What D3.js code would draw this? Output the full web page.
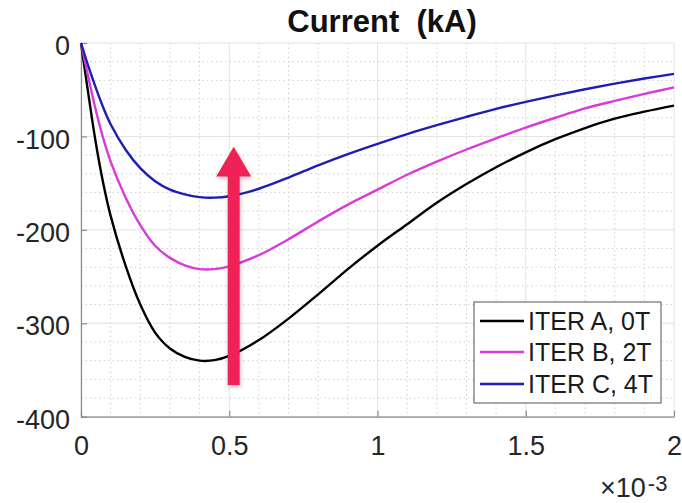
<!DOCTYPE html>
<html>
<head>
<meta charset="utf-8">
<script src="https://cdn.jsdelivr.net/npm/d3@7"></script>
<style>
  html, body { margin: 0; padding: 0; background: #fff; }
  svg { display: block; font-family: "Liberation Sans", Arial, Helvetica, sans-serif; }
</style>
</head>
<body>
<svg id="chart" width="682" height="503"></svg>
<script>
// Time axis in units of 1e-3 s
const timeMs = [0, 0.025, 0.05, 0.075, 0.1, 0.15, 0.2, 0.25, 0.3, 0.35, 0.4, 0.45, 0.5,
  0.6, 0.7, 0.8, 0.9, 1.0, 1.1, 1.2, 1.3, 1.4, 1.5, 1.6, 1.7, 1.8, 1.9, 2.0];

// Current (kA) for each case
const iterA0T = [0, -55, -107, -150, -185, -238, -280, -310, -327, -336, -340, -339.5, -335,
  -318, -295, -269, -242, -217, -194, -171, -151, -133, -117, -103, -91, -81, -73.5, -67];
const iterB2T = [0, -37, -72, -102, -127, -165, -195, -217, -230, -238, -242, -242, -239,
  -227, -210, -191, -173, -157, -141, -127, -114, -102, -90.5, -80, -70, -62, -54.5, -47.5];
const iterC4T = [0, -25, -48, -69, -87, -114, -134, -148, -157, -162, -165, -165.5, -164,
  -156, -144, -131, -119, -108, -97.5, -88, -79, -70.5, -63, -56, -49.5, -43.5, -38, -33];

const seriesNames = ["ITER A, 0T", "ITER B, 2T", "ITER C, 4T"];
const seriesValues = [iterA0T, iterB2T, iterC4T];
const seriesColors = ["#000000", "#d93ad9", "#1e1eb4"];

const xTicks = [0, 0.5, 1, 1.5, 2];
const yTicks = [-400, -300, -200, -100, 0];
const titleText = "Current  (kA)";

// Arrow annotation (data units): shaft from bottom up to tip
const arrowX = 0.515, arrowFrom = -366, arrowTo = -111, arrowHeadBase = -143;

const svg = d3.select("#chart");
const plotLeft = 81, plotRight = 674, plotTop = 43, plotBottom = 416.7;

const x = d3.scaleLinear().domain([0, 2]).range([plotLeft, plotRight]);
const y = d3.scaleLinear().domain([-400, 0]).range([plotBottom, plotTop]);

// Minor grid (dotted)
const g = svg.append("g");
const xMinor = d3.range(0, 2.0001, 0.1).filter(v => Math.abs(v * 2 - Math.round(v * 2)) > 1e-6);
const yMinor = d3.range(-400, 0.001, 20).filter(v => v % 100 !== 0);
g.selectAll(".xm").data(xMinor).join("line")
  .attr("x1", d => x(d)).attr("x2", d => x(d)).attr("y1", plotTop).attr("y2", plotBottom)
  .attr("stroke", "#cfcfcf").attr("stroke-width", 1).attr("stroke-dasharray", "1.5,3");
g.selectAll(".ym").data(yMinor).join("line")
  .attr("x1", plotLeft).attr("x2", plotRight).attr("y1", d => y(d)).attr("y2", d => y(d))
  .attr("stroke", "#cfcfcf").attr("stroke-width", 1).attr("stroke-dasharray", "1.5,3");

// Major grid
g.selectAll(".xg").data(xTicks).join("line")
  .attr("x1", d => x(d)).attr("x2", d => x(d)).attr("y1", plotTop).attr("y2", plotBottom)
  .attr("stroke", "#e2e2e2").attr("stroke-width", 1);
g.selectAll(".yg").data(yTicks).join("line")
  .attr("x1", plotLeft).attr("x2", plotRight).attr("y1", d => y(d)).attr("y2", d => y(d))
  .attr("stroke", "#e2e2e2").attr("stroke-width", 1);

// Axes
const fmt = d => String(d);
const xAxis = svg.append("g").attr("transform", `translate(0,${plotBottom})`)
  .call(d3.axisBottom(x).tickValues(xTicks).tickFormat(fmt).tickSizeInner(-6).tickSizeOuter(0).tickPadding(19));
const yAxis = svg.append("g").attr("transform", `translate(${plotLeft},0)`)
  .call(d3.axisLeft(y).tickValues(yTicks).tickFormat(fmt).tickSizeInner(-6).tickSizeOuter(0).tickPadding(11));
[xAxis, yAxis].forEach(a => {
  a.select(".domain").attr("stroke", "#8a8a8a").attr("stroke-width", 1.2);
  a.selectAll(".tick line").attr("stroke", "#8a8a8a").attr("stroke-width", 1.2);
  a.selectAll(".tick text").attr("fill", "#262626").attr("font-size", 27)
    .attr("font-family", "'Liberation Sans', Arial, sans-serif");
});
yAxis.selectAll(".tick text").attr("dy", "0.43em");
xAxis.selectAll(".tick text").attr("dy", "0.71em");

// Exponent label
const expo = svg.append("text").attr("x", 600).attr("y", 497)
  .attr("fill", "#262626").attr("font-size", 27);
expo.append("tspan").text("\u00d710");
expo.append("tspan").attr("font-size", 22).attr("dx", 2).attr("dy", -6).text("-3");

// Curves
const line = d3.line().x((d, i) => x(timeMs[i])).y(d => y(d)).curve(d3.curveCatmullRom.alpha(0.5));
svg.append("g").selectAll("path").data(seriesValues).join("path")
  .attr("d", d => line(d)).attr("fill", "none")
  .attr("stroke", (d, i) => seriesColors[i]).attr("stroke-width", 2.4)
  .attr("stroke-linejoin", "round");

// Title
svg.append("text").attr("x", 382).attr("y", 32).attr("text-anchor", "middle")
  .style("white-space", "pre")
  .attr("font-size", 31).attr("font-weight", "bold").attr("fill", "#111").text(titleText);

// Legend
const lg = svg.append("g");
lg.append("rect").attr("x", 474).attr("y", 302).attr("width", 187).attr("height", 101)
  .attr("fill", "#fff").attr("stroke", "#555").attr("stroke-width", 1);
const rowY = [321, 352, 384];
seriesNames.forEach((name, i) => {
  lg.append("line").attr("x1", 480).attr("x2", 524).attr("y1", rowY[i]).attr("y2", rowY[i])
    .attr("stroke", seriesColors[i]).attr("stroke-width", 2.4);
  lg.append("text").attr("x", 528).attr("y", rowY[i] + 9).attr("font-size", 25)
    .attr("fill", "#1a1a1a").text(name);
});

// Arrow annotation with soft shadow
const defs = svg.append("defs");
const f = defs.append("filter").attr("id", "shadow").attr("x", "-50%").attr("y", "-20%")
  .attr("width", "200%").attr("height", "140%");
f.append("feDropShadow").attr("dx", 1).attr("dy", 2).attr("stdDeviation", 2)
  .attr("flood-color", "#000").attr("flood-opacity", 0.25);
const ax = x(arrowX), halfShaft = 6, halfHead = 17.5;
const pts = [
  [ax - halfShaft, y(arrowFrom)], [ax - halfShaft, y(arrowHeadBase)], [ax - halfHead, y(arrowHeadBase)],
  [ax, y(arrowTo)], [ax + halfHead, y(arrowHeadBase)], [ax + halfShaft, y(arrowHeadBase)],
  [ax + halfShaft, y(arrowFrom)]
];
svg.append("path").attr("d", "M" + pts.map(p => p.join(",")).join("L") + "Z")
  .attr("fill", "#ef2459").attr("filter", "url(#shadow)");
</script>
</body>
</html>
